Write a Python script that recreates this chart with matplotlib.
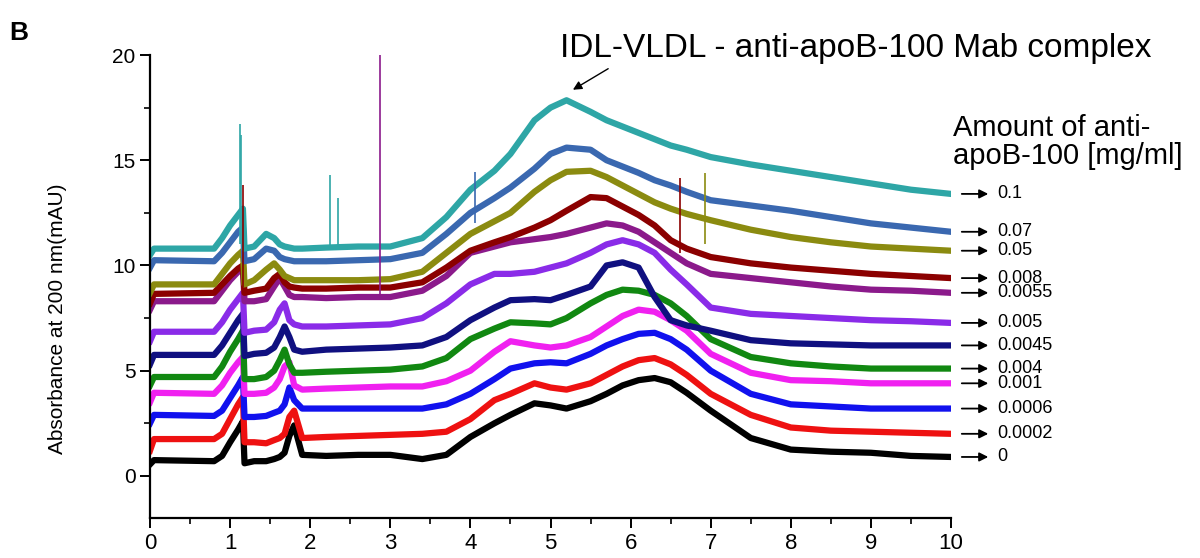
import numpy as np
import matplotlib.pyplot as plt

plt.rcParams['font.family'] = ['Liberation Sans', 'DejaVu Sans']

# migration time grid (min)
t = [0, 0.05, 0.8, 0.9, 1.0, 1.1, 1.16, 1.18, 1.3, 1.45, 1.55, 1.62, 1.68, 1.74,
     1.8, 1.9, 2.2, 2.6, 3.0, 3.4, 3.7, 4.0, 4.3, 4.5, 4.8, 5.0, 5.2, 5.5, 5.7,
     5.9, 6.1, 6.3, 6.5, 6.7, 7.0, 7.5, 8.0, 8.5, 9.0, 9.5, 10.0]

# absorbance traces (mAU)
a_0 = [0.55, 0.75, 0.7, 0.95, 1.6, 2.2, 2.6, 0.6, 0.7, 0.7, 0.8, 0.9, 1.1, 1.9,
       2.4, 1.0, 0.95, 1.0, 1.0, 0.8, 1.0, 1.85, 2.5, 2.9, 3.45, 3.35, 3.2, 3.55, 3.9,
       4.3, 4.55, 4.65, 4.45, 3.95, 3.1, 1.8, 1.25, 1.15, 1.1, 0.95, 0.9]
a_0002 = [1.2, 1.75, 1.75, 2.0, 2.7, 3.4, 3.75, 1.6, 1.6, 1.55, 1.7, 1.8, 2.0, 2.8,
          3.1, 1.8, 1.85, 1.9, 1.95, 2.0, 2.1, 2.7, 3.6, 3.9, 4.4, 4.2, 4.1, 4.4, 4.8,
          5.2, 5.5, 5.6, 5.3, 4.8, 3.9, 2.9, 2.3, 2.15, 2.1, 2.05, 2.0]
a_0006 = [2.5, 2.9, 2.85, 3.1, 3.7, 4.3, 4.7, 2.8, 2.8, 2.85, 3.0, 3.1, 3.4, 4.2,
          3.6, 3.2, 3.2, 3.2, 3.2, 3.2, 3.4, 3.9, 4.6, 5.1, 5.35, 5.4, 5.35, 5.8, 6.2,
          6.5, 6.75, 6.8, 6.5, 6.0, 5.0, 3.9, 3.4, 3.3, 3.2, 3.2, 3.2]
a_001 = [3.5, 3.95, 3.9, 4.3, 4.9, 5.4, 5.65, 3.9, 3.9, 3.95, 4.2, 4.6, 5.2, 5.4,
         4.3, 4.1, 4.15, 4.2, 4.25, 4.25, 4.5, 5.0, 5.9, 6.4, 6.2, 6.1, 6.2, 6.6, 7.1,
         7.6, 7.9, 7.8, 7.4, 6.9, 5.8, 4.9, 4.55, 4.5, 4.4, 4.4, 4.4]
a_004 = [4.3, 4.7, 4.7, 5.2, 5.9, 6.5, 6.9, 4.6, 4.6, 4.7, 5.0, 5.5, 6.0, 5.3,
         4.9, 4.9, 4.95, 5.0, 5.05, 5.2, 5.6, 6.5, 7.0, 7.3, 7.25, 7.2, 7.5, 8.2, 8.6,
         8.85, 8.8, 8.6, 8.2, 7.6, 6.5, 5.65, 5.35, 5.2, 5.1, 5.1, 5.1]
a_0045 = [5.3, 5.75, 5.75, 6.2, 6.8, 7.4, 7.7, 5.7, 5.8, 5.85, 6.1, 6.6, 7.1, 6.6,
          6.0, 5.9, 6.0, 6.05, 6.1, 6.2, 6.6, 7.4, 8.0, 8.35, 8.4, 8.35, 8.6, 9.0, 10.0,
          10.15, 9.9, 8.5, 7.4, 7.15, 6.9, 6.45, 6.3, 6.25, 6.2, 6.2, 6.2]
a_005 = [6.4, 6.85, 6.85, 7.3, 7.9, 8.4, 8.7, 6.8, 6.9, 6.95, 7.3, 7.9, 8.2, 7.4,
         7.2, 7.1, 7.1, 7.15, 7.2, 7.5, 8.2, 9.1, 9.6, 9.6, 9.7, 9.9, 10.1, 10.6, 11.0,
         11.2, 11.0, 10.6, 9.8, 9.1, 8.0, 7.7, 7.6, 7.5, 7.4, 7.35, 7.27]
a_0055 = [7.9, 8.3, 8.3, 8.8, 9.3, 9.7, 9.9, 8.3, 8.3, 8.4, 9.0, 9.4, 9.0, 8.6,
          8.5, 8.5, 8.45, 8.5, 8.5, 8.8, 9.5, 10.6, 10.9, 11.1, 11.25, 11.35, 11.5, 11.8, 12.0,
          11.9, 11.6, 11.1, 10.6, 10.1, 9.6, 9.4, 9.2, 9.0, 8.85, 8.8, 8.7]
a_008 = [8.2, 8.65, 8.7, 9.1, 9.5, 9.85, 10.0, 8.7, 8.8, 8.9, 9.4, 9.6, 9.2, 9.0,
         8.95, 8.9, 8.9, 8.95, 8.95, 9.2, 9.9, 10.7, 11.1, 11.35, 11.8, 12.15, 12.6, 13.25, 13.2,
         12.8, 12.4, 11.9, 11.2, 10.8, 10.4, 10.1, 9.9, 9.75, 9.6, 9.5, 9.4]
a_05 = [8.7, 9.1, 9.1, 9.6, 10.1, 10.5, 10.7, 9.1, 9.3, 9.8, 10.1, 9.8, 9.5, 9.4,
        9.3, 9.3, 9.3, 9.3, 9.35, 9.7, 10.6, 11.5, 12.1, 12.5, 13.5, 14.05, 14.45, 14.5, 14.2,
        13.8, 13.4, 13.0, 12.7, 12.45, 12.15, 11.7, 11.35, 11.1, 10.9, 10.8, 10.7]
a_07 = [9.9, 10.25, 10.2, 10.6, 11.1, 11.6, 11.8, 10.2, 10.3, 10.8, 10.7, 10.4, 10.3, 10.25,
        10.2, 10.2, 10.2, 10.25, 10.3, 10.6, 11.5, 12.5, 13.2, 13.7, 14.6, 15.3, 15.6, 15.5, 15.0,
        14.7, 14.4, 14.05, 13.8, 13.5, 13.1, 12.85, 12.6, 12.3, 12.0, 11.8, 11.6]
a_1 = [10.5, 10.8, 10.8, 11.3, 11.9, 12.4, 12.7, 10.8, 10.9, 11.5, 11.3, 11.0, 10.9, 10.85,
       10.8, 10.8, 10.85, 10.9, 10.9, 11.3, 12.3, 13.6, 14.5, 15.3, 16.9, 17.5, 17.85, 17.3, 16.9,
       16.6, 16.3, 16.0, 15.7, 15.5, 15.15, 14.8, 14.5, 14.2, 13.9, 13.6, 13.4]

amounts = ['0', '0.0002', '0.0006', '0.001', '0.004', '0.0045', '0.005',
           '0.0055', '0.008', '0.05', '0.07', '0.1']
traces = [a_0, a_0002, a_0006, a_001, a_004, a_0045, a_005, a_0055, a_008, a_05, a_07, a_1]
colors = ['#000000', '#ee1111', '#1111ee', '#f020f0', '#118811', '#101080',
          '#8a2be8', '#8b1a8b', '#8b0000', '#8b8b10', '#3a68b0', '#2ea6a6']

# narrow spikes (time, low, high, trace index)
spike_t = [1.12, 1.135, 1.155, 2.25, 2.35, 2.87, 4.06, 6.62, 6.93]
spike_lo = [11.0, 11.0, 9.0, 10.8, 10.8, 8.4, 12.0, 10.6, 11.0]
spike_hi = [16.7, 16.2, 13.8, 14.3, 13.2, 20.0, 14.45, 14.15, 14.4]
spike_tr = [11, 11, 8, 11, 11, 7, 10, 8, 9]

fig = plt.figure(figsize=(12, 5.58), dpi=100)
ax = fig.add_axes([0.125, 0.0717, 0.6675, 0.8297])

for y, c in zip(traces, colors):
    ax.plot(t, y, color=c, lw=4.5, solid_joinstyle='round')
for st, lo, hi, k in zip(spike_t, spike_lo, spike_hi, spike_tr):
    ax.vlines(st, lo, hi, color=colors[k], lw=1.2)

ax.set_xlim(0, 10)
ax.set_ylim(-2, 20)
ax.set_xticks(range(0, 11))
ax.set_xticks(np.arange(0.5, 10, 1), minor=True)
ax.set_yticks([0, 5, 10, 15, 20])
ax.set_yticks([2.5, 7.5, 12.5, 17.5], minor=True)
for s in ['top', 'right']:
    ax.spines[s].set_visible(False)
for s in ['left', 'bottom']:
    ax.spines[s].set_linewidth(1.6)
ax.tick_params(which='major', direction='out', length=7, width=1.4)
ax.tick_params(which='minor', direction='out', length=4, width=1.2)
ax.tick_params(axis='x', which='major', labelsize=16)
ax.tick_params(axis='y', which='major', labelsize=15)

ax.set_ylabel('Absorbance at 200 nm(mAU)', fontsize=15)
ax.yaxis.set_label_coords(-0.104, 0.43)

# right-hand labels with arrows
for y, lab in zip(traces, amounts):
    ax.annotate('', xy=(10.5, y[-1]), xytext=(10.1, y[-1]),
                arrowprops=dict(arrowstyle='-|>', color='black', lw=1.3,
                                mutation_scale=13), annotation_clip=False)
    ax.text(10.58, y[-1], lab, fontsize=13, va='center', ha='left', clip_on=False)

ax.text(10.03, 15.85, 'Amount of anti-\napoB-100 [mg/ml]', fontsize=21,
        va='center', ha='left', linespacing=1.0)

ax.text(5.12, 20.3, 'IDL-VLDL - anti-apoB-100 Mab complex', fontsize=24,
        ha='left', va='center', clip_on=False)
ax.annotate('', xy=(5.28, 18.35), xytext=(5.72, 19.35),
            arrowprops=dict(arrowstyle='-|>', color='black', lw=1,
                            mutation_scale=13, shrinkA=0, shrinkB=0),
            annotation_clip=False)

fig.text(0.008, 0.962, 'B', fontsize=19, fontweight='bold', va='top')

fig.savefig('out.png', dpi=100)
